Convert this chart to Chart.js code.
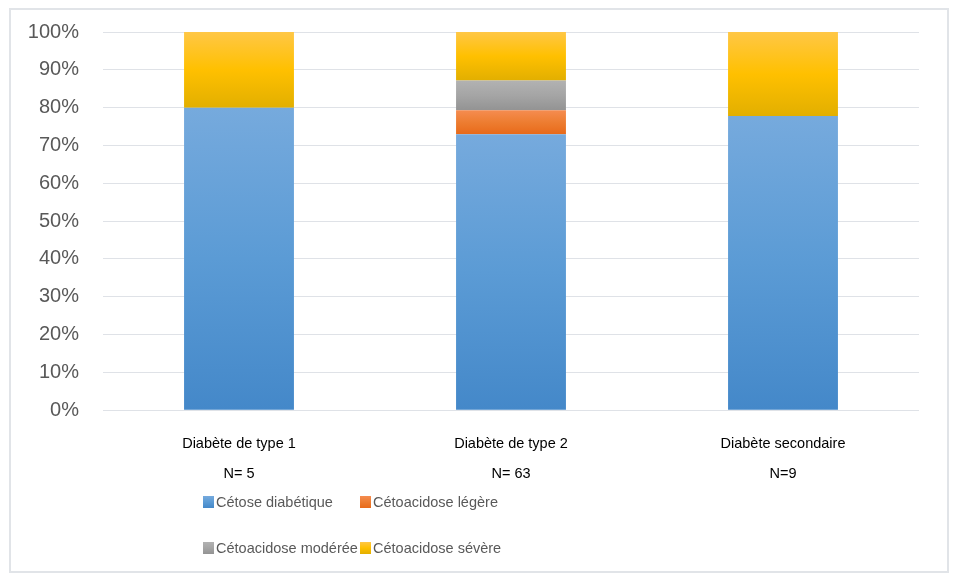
<!DOCTYPE html>
<html>
<head>
<meta charset="utf-8">
<script src="https://cdn.jsdelivr.net/npm/chart.js@4"></script>
<style>
  html, body { margin: 0; padding: 0; background: #fff; }
  #wrap { position: relative; width: 958px; height: 579px; }
  #frame { position: absolute; left: 9px; top: 8px; width: 936px; height: 561px; border: 2px solid #e1e4e8; }
  #chart { position: absolute; left: 0; top: 0; }
  #legend { position: absolute; left: 203px; top: 490px; display: grid; grid-template-columns: 157px 170px; row-gap: 22px;
            font-family: "Liberation Sans", sans-serif; font-size: 14.5px; color: #595959; }
  .item { display: flex; align-items: center; height: 24px; white-space: nowrap; }
  .box { flex: 0 0 11px; width: 11px; height: 12px; margin-right: 2px; }
</style>
</head>
<body>
<div id="wrap">
  <div id="frame"></div>
  <canvas id="chart" width="958" height="579"></canvas>
  <div id="legend"></div>
</div>
<script>
// categories and values (% of each group)
const categories = [['Diabète de type 1', 'N= 5'], ['Diabète de type 2', 'N= 63'], ['Diabète secondaire', 'N=9']];
const seriesNames = ['Cétose diabétique', 'Cétoacidose légère', 'Cétoacidose modérée', 'Cétoacidose sévère'];
const cetose = [80, 73.0, 77.8];
const legere = [0, 6.3, 0];
const moderee = [0, 7.9, 0];
const severe = [20, 12.8, 22.2];
const yTicks = [0, 10, 20, 30, 40, 50, 60, 70, 80, 90, 100];

// light / base / dark for the Excel style gradient
const palette = [
  ['#76aadd', '#5b9bd5', '#4488c9'],
  ['#f58c50', '#ed7d31', '#e86a1a'],
  ['#b2b2b2', '#a5a5a5', '#939393'],
  ['#ffc746', '#ffc000', '#e2af00']
];
const allSeries = [cetose, legere, moderee, severe];

const gradientFill = (dsIndex) => (c) => {
  const chart = c.chart;
  const cols = palette[dsIndex];
  if (!chart.chartArea || c.type !== 'data') return cols[1];
  let start = 0;
  for (let i = 0; i < dsIndex; i++) start += allSeries[i][c.dataIndex];
  const val = allSeries[dsIndex][c.dataIndex];
  if (!val) return cols[1];
  const y = chart.scales.y;
  const top = y.getPixelForValue(start + val);
  const bottom = y.getPixelForValue(start);
  const g = chart.ctx.createLinearGradient(0, top, 0, bottom);
  g.addColorStop(0, cols[0]);
  g.addColorStop(0.5, cols[1]);
  g.addColorStop(1, cols[2]);
  return g;
};

const datasets = allSeries.map((values, i) => ({
  label: seriesNames[i],
  data: values,
  backgroundColor: gradientFill(i),
  borderWidth: 0,
  barPercentage: 0.404,
  categoryPercentage: 1
}));

const chart = new Chart(document.getElementById('chart'), {
  type: 'bar',
  data: { labels: categories, datasets: datasets },
  options: {
    responsive: false,
    animation: false,
    layout: { padding: { left: 20, right: 39, top: 32, bottom: 79 } },
    plugins: { legend: { display: false }, tooltip: { enabled: false } },
    scales: {
      x: {
        stacked: true,
        grid: { display: false },
        border: { display: false },
        ticks: {
          color: '#000',
          padding: 11,
          maxRotation: 0,
          font: { family: '"Liberation Sans", sans-serif', size: 14.5, lineHeight: 2.06 }
        }
      },
      y: {
        stacked: true,
        min: 0,
        max: 100,
        afterFit: (scale) => {
          scale.width = 83;
          scale.paddingTop = 0;
          scale.paddingBottom = 0;
        },
        afterBuildTicks: (scale) => { scale.ticks = yTicks.map(v => ({ value: v })); },
        grid: { color: '#dfe2e7', lineWidth: 1, drawTicks: false },
        border: { display: false },
        ticks: {
          color: '#595959',
          padding: 24,
          font: { family: '"Liberation Sans", sans-serif', size: 20 },
          callback: (v) => v + '%'
        }
      }
    }
  }
});

// html legend built from the chart's datasets, two per row
const legend = document.getElementById('legend');
chart.data.datasets.forEach((ds, i) => {
  const item = document.createElement('div');
  item.className = 'item';
  const box = document.createElement('span');
  box.className = 'box';
  box.style.background = 'linear-gradient(' + palette[i][0] + ',' + palette[i][1] + ',' + palette[i][2] + ')';
  const txt = document.createElement('span');
  txt.textContent = ds.label;
  item.appendChild(box);
  item.appendChild(txt);
  legend.appendChild(item);
});
</script>
</body>
</html>
